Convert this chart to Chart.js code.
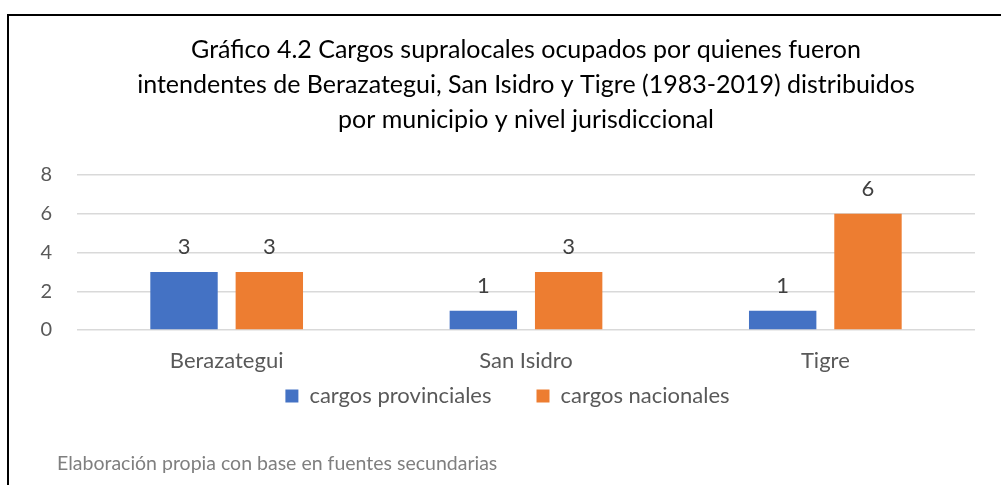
<!DOCTYPE html>
<html>
<head>
<meta charset="utf-8">
<script src="https://cdn.jsdelivr.net/npm/chart.js@4"></script>
<style>
  body { margin: 0; background: #fff; }
  #wrap { position: relative; width: 1001px; height: 485px; overflow: hidden; }
  #frame { position: absolute; left: 7px; top: 14px; width: 1100px; height: 600px;
           border-top: 2px solid #000; border-left: 2px solid #000; }
  #note { position: absolute; left: 57px; top: 451px; font: 19.5px Lato, sans-serif; color: #7f7f7f; }
</style>
</head>
<body>
<div id="wrap">
  <div id="frame"></div>
  <canvas id="chart" width="1001" height="485"></canvas>
  <div id="note">Elaboración propia con base en fuentes secundarias</div>
</div>
<script>
const municipios = ['Berazategui', 'San Isidro', 'Tigre'];
const provinciales = [3, 1, 1];
const nacionales = [3, 3, 6];
const yTicks = [0, 2, 4, 6, 8];
const titleLines = [
    'Gráfico 4.2 Cargos supralocales ocupados por quienes fueron',
    'intendentes de Berazategui, San Isidro y Tigre (1983-2019) distribuidos',
    'por municipio y nivel jurisdiccional'
];

// numbers above the bars
const valueLabels = {
    id: 'valueLabels',
    afterDatasetsDraw(chart) {
        const ctx = chart.ctx;
        ctx.save();
        ctx.font = '22px Lato, sans-serif';
        ctx.fillStyle = '#404040';
        ctx.textAlign = 'center';
        ctx.textBaseline = 'alphabetic';
        chart.data.datasets.forEach((ds, i) => {
            chart.getDatasetMeta(i).data.forEach((bar, j) => {
                ctx.fillText(ds.data[j], bar.x, bar.y - 18);
            });
        });
        ctx.restore();
    }
};

// pull the legend up closer to the axis labels
const legendShift = {
    id: 'legendShift',
    afterLayout(chart) {
        if (!chart.legend) return;
        chart.legend.top -= 44;
        chart.legend.bottom -= 44;
    }
};

new Chart(document.getElementById('chart'), {
    type: 'bar',
    data: {
        labels: municipios,
        datasets: [{
            label: 'cargos provinciales',
            data: provinciales,
            backgroundColor: '#4472C4',
            categoryPercentage: 0.57,
            barPercentage: 0.79
        }, {
            label: 'cargos nacionales',
            data: nacionales,
            backgroundColor: '#ED7D31',
            categoryPercentage: 0.57,
            barPercentage: 0.79
        }]
    },
    options: {
        responsive: false,
        animation: false,
        layout: { padding: { left: 40, right: 26, top: 0, bottom: 24 } },
        plugins: {
            title: {
                display: true,
                fullSize: false,
                text: titleLines,
                color: '#000',
                font: { family: 'Lato, sans-serif', size: 25, weight: 'normal', lineHeight: 1.4 },
                padding: { top: 32, bottom: 38 }
            },
            legend: {
                position: 'bottom',
                labels: {
                    color: '#595959',
                    font: { family: 'Lato, sans-serif', size: 22 },
                    boxWidth: 13,
                    boxHeight: 13,
                    padding: 45
                }
            },
            tooltip: { enabled: false }
        },
        scales: {
            x: {
                afterFit(scale) { scale.height = 54; },
                grid: { display: false },
                border: { display: false },
                ticks: { color: '#595959', font: { family: 'Lato, sans-serif', size: 22 }, padding: 10 }
            },
            y: {
                min: 0,
                max: 8,
                afterBuildTicks(scale) { scale.ticks = yTicks.map(v => ({ value: v })); },
                afterFit(scale) { scale.width = 37; },
                grid: { color: '#d9d9d9', lineWidth: 1.5, drawTicks: false },
                border: { display: false },
                ticks: { color: '#595959', font: { family: 'Lato, sans-serif', size: 20 }, padding: 25 }
            }
        }
    },
    plugins: [valueLabels, legendShift]
});
</script>
</body>
</html>
